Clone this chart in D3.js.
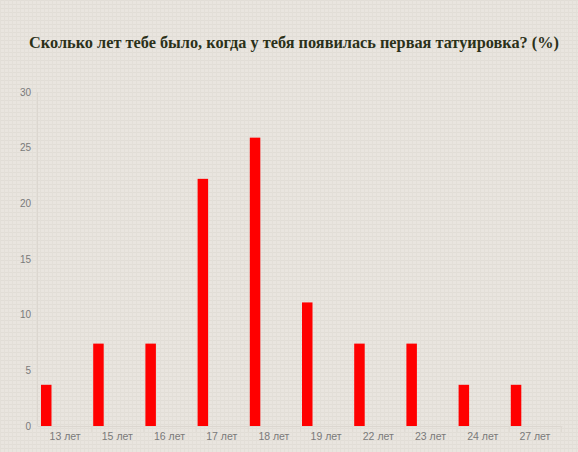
<!DOCTYPE html>
<html>
<head>
<meta charset="utf-8">
<script src="https://cdn.jsdelivr.net/npm/d3@7"></script>
<style>
	html, body { margin: 0; padding: 0; background: #e8e4de; }
	svg { display: block; }
</style>
</head>
<body>
<svg id="chart" width="578" height="452"></svg>
<script>
// data
var TITLE = 'Сколько лет тебе было, когда у тебя появилась первая татуировка? (%)';
var CATEGORIES = ['13 лет', '15 лет', '16 лет', '17 лет', '18 лет', '19 лет', '22 лет', '23 лет', '24 лет', '27 лет'];
var VALUES = [3.7, 7.4, 7.4, 22.2, 25.9, 11.1, 7.4, 7.4, 3.7, 3.7];
var Y_TICKS = [0, 5, 10, 15, 20, 25, 30];

function render() {
	var svg_d3 = d3.select('#chart');
	var W = 578, H = 452;

	// linen-ish background
	var defs = svg_d3.append('defs');
	var pat = defs.append('pattern')
		.attr('id', 'linen')
		.attr('width', 4).attr('height', 4)
		.attr('patternUnits', 'userSpaceOnUse');
	pat.append('rect').attr('width', 4).attr('height', 4).attr('fill', '#e9e5df');
	pat.append('line').attr('x1', 0).attr('y1', 0.5).attr('x2', 4).attr('y2', 0.5)
		.attr('stroke', '#e1ddd6').attr('stroke-width', 1);
	pat.append('line').attr('x1', 0.5).attr('y1', 0).attr('x2', 0.5).attr('y2', 4)
		.attr('stroke', '#e3dfd8').attr('stroke-width', 1);
	svg_d3.append('rect').attr('width', W).attr('height', H).attr('fill', 'url(#linen)');

	// title
	svg_d3.append('text')
		.attr('x', 294)
		.attr('y', 48)
		.attr('text-anchor', 'middle')
		.attr('font-family', '"Liberation Serif", "Times New Roman", serif')
		.attr('font-weight', 'bold')
		.attr('font-size', 16.3)
		.attr('fill', '#2b3119')
		.text(TITLE);

	var x = d3.scaleBand()
		.domain(CATEGORIES)
		.range([40.5, 562.5])
		.paddingInner(0)
		.paddingOuter(0);

	var y = d3.scaleLinear()
		.domain([0, 30])
		.range([426, 92]);

	// faint axis lines
	svg_d3.append('line')
		.attr('x1', 37.5).attr('x2', 37.5)
		.attr('y1', y(30)).attr('y2', y(0))
		.attr('stroke', '#dcd7d0');
	svg_d3.append('line')
		.attr('x1', 37.5).attr('x2', 562.5)
		.attr('y1', y(0) + 0.5).attr('y2', y(0) + 0.5)
		.attr('stroke', '#dcd7d0');

	// x tick marks at band edges
	svg_d3.append('g')
		.selectAll('line')
		.data(CATEGORIES)
		.enter()
		.append('line')
		.attr('x1', (c) => x(c) + x.bandwidth() - 1)
		.attr('x2', (c) => x(c) + x.bandwidth() - 1)
		.attr('y1', y(0))
		.attr('y2', y(0) + 6)
		.attr('stroke', '#dfdad3');

	// y axis labels
	svg_d3.append('g')
		.selectAll('text')
		.data(Y_TICKS)
		.enter()
		.append('text')
		.attr('x', 31)
		.attr('y', (v) => y(v))
		.attr('dy', '0.35em')
		.attr('text-anchor', 'end')
		.attr('font-family', '"Liberation Sans", Arial, sans-serif')
		.attr('font-size', 10)
		.attr('fill', '#7a7a7a')
		.text((v) => v);

	// x axis labels
	svg_d3.append('g')
		.selectAll('text')
		.data(CATEGORIES)
		.enter()
		.append('text')
		.attr('x', (c) => x(c) + x.bandwidth() / 2 - 1.5)
		.attr('y', 440)
		.attr('text-anchor', 'middle')
		.attr('font-family', '"Liberation Sans", Arial, sans-serif')
		.attr('font-size', 10.5)
		.attr('fill', '#7a7a7a')
		.text((c) => c);

	// bars
	svg_d3.append('g')
		.selectAll('rect')
		.data(VALUES)
		.enter()
		.append('rect')
		.attr('x', (v, i) => x(CATEGORIES[i]) + 0.5)
		.attr('y', (v) => y(v))
		.attr('width', 10.5)
		.attr('height', (v) => y(0) - y(v))
		.attr('fill', '#ff0000');
}

render();
</script>
</body>
</html>
